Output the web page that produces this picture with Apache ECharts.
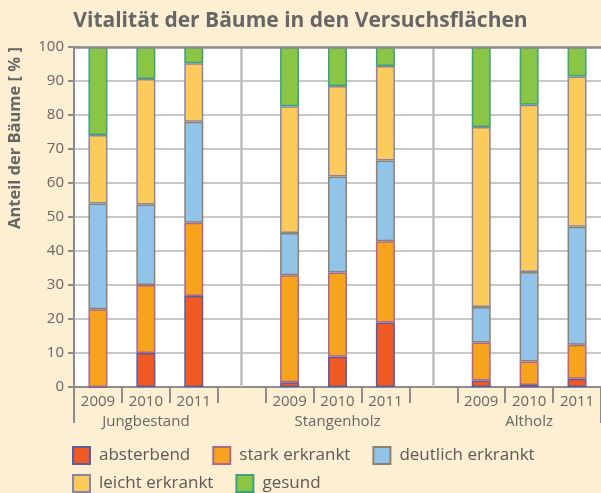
<!DOCTYPE html>
<html>
<head>
<meta charset="utf-8">
<script src="https://cdn.jsdelivr.net/npm/echarts@6/dist/echarts.min.js"></script>
<style>
html,body{margin:0;padding:0;background:#FDEFD1;}
#c{width:601px;height:493px;}
</style>
</head>
<body>
<div id="c"></div>
<script>
const categories = ['2009','2010','2011','','2009','2010','2011','','2009','2010','2011'];
const groupLabels = ['', 'Jungbestand', '', '', '', 'Stangenholz', '', '', '', 'Altholz', ''];
const separators = [3, 7];
const seriesNames = ['absterbend', 'stark erkrankt', 'deutlich erkrankt', 'leicht erkrankt', 'gesund'];
const absterbend       = [0,    10,   26.8, '-', 1.4,  8.9,  19.0, '-', 1.9,  0.6,  2.4];
const starkErkrankt    = [22.9, 20,   21.5, '-', 31.5, 24.8, 23.9, '-', 11.2, 6.9,  10.0];
const deutlichErkrankt = [31.1, 23.7, 29.7, '-', 12.4, 28.2, 23.7, '-', 10.4, 26.3, 34.7];
const leichtErkrankt   = [20.1, 36.9, 17.2, '-', 37.3, 26.6, 27.8, '-', 53.0, 49.2, 44.2];
const gesund           = [25.9, 9.4,  4.8,  '-', 17.4, 11.5, 5.6,  '-', 23.5, 17.0, 8.7];
const yTicks = [0, 10, 20, 30, 40, 50, 60, 70, 80, 90, 100];

const values = [absterbend, starkErkrankt, deutlichErkrankt, leichtErkrankt, gesund];
const colors = ['#F05A22', '#F6A41B', '#92C4E9', '#FDCB5B', '#8AC546'];
const borders = ['#5E5C9C', '#B0658E', '#8C8272', '#8A86A0', '#3FA07E'];
const FONT = '"Open Sans", "Noto Sans", sans-serif';
const TXT = '#666666';

const chart = echarts.init(document.getElementById('c'), null, {renderer: 'canvas'});

const series = values.map((v, i) => {
  const s = {
    name: seriesNames[i],
    type: 'bar',
    stack: 'total',
    barWidth: 19,
    data: v,
    itemStyle: {color: colors[i], borderColor: borders[i], borderWidth: 1.5},
    emphasis: {disabled: true}
  };
  if (i === 0) {
    s.markLine = {
      silent: true,
      symbol: 'none',
      label: {show: false},
      data: separators.map(x => ({xAxis: x, lineStyle: {color: '#BDBDBD', width: 2.5, type: 'solid'}}))
        .concat([{yAxis: yTicks[yTicks.length - 1], lineStyle: {color: '#8C8C8C', width: 2.5, type: 'solid'}}])
    };
  }
  return s;
});

const legendCommon = {
  padding: 0,
  itemWidth: 17, itemHeight: 17, itemGap: 22,
  icon: 'rect',
  textStyle: {fontFamily: FONT, fontSize: 17, color: '#5A5A5A', padding: [0, 0, 0, 4]}
};

chart.setOption({
  backgroundColor: '#FDEFD1',
  animation: false,
  textStyle: {fontFamily: FONT},
  title: {
    text: 'Vitalität der Bäume in den Versuchsflächen',
    left: 'center',
    top: 6,
    textStyle: {fontFamily: FONT, fontSize: 21, fontWeight: 'bold', color: TXT}
  },
  graphic: [{
    type: 'text',
    x: 7,
    y: 229,
    rotation: Math.PI / 2,
    style: {text: 'Anteil der Bäume [ % ]', fontFamily: FONT, fontSize: 16.5, fontWeight: 'bold', fill: TXT,
            align: 'left', verticalAlign: 'top'}
  }],
  legend: [
    Object.assign({data: seriesNames.slice(0, 3), left: 72, top: 446}, legendCommon),
    Object.assign({data: seriesNames.slice(3), left: 72, top: 474}, legendCommon)
  ],
  grid: {left: 74, right: 0, top: 47, bottom: 106, backgroundColor: '#FFFFFF', show: true, borderWidth: 0},
  xAxis: [{
    type: 'category',
    data: categories,
    boundaryGap: true,
    axisLine: {lineStyle: {color: '#8C8C8C', width: 2}},
    axisTick: {show: true, interval: 0, length: 16, lineStyle: {color: '#8C8C8C', width: 2}},
    axisLabel: {
      interval: 0, margin: 5, color: TXT, fontSize: 15, fontFamily: FONT, lineHeight: 20,
      formatter: (val, idx) => groupLabels[idx] ? val + '\n' + groupLabels[idx] : val
    },
    splitLine: {show: false}
  }, {
    type: 'category',
    data: categories,
    position: 'bottom',
    boundaryGap: true,
    axisLine: {show: false},
    axisLabel: {show: false},
    axisTick: {show: true, interval: (i) => i === 0, length: 36, lineStyle: {color: '#8C8C8C', width: 2}},
    splitLine: {show: false}
  }],
  yAxis: {
    type: 'value',
    min: yTicks[0], max: yTicks[yTicks.length - 1], interval: 10,
    axisLine: {show: true, lineStyle: {color: '#8C8C8C', width: 2}},
    axisTick: {show: true, length: 6, lineStyle: {color: '#8C8C8C', width: 2}},
    axisLabel: {color: TXT, fontSize: 15, fontFamily: FONT, margin: 10},
    splitLine: {lineStyle: {color: '#C8C8C8', width: 2}}
  },
  series: series
});
</script>
</body>
</html>
